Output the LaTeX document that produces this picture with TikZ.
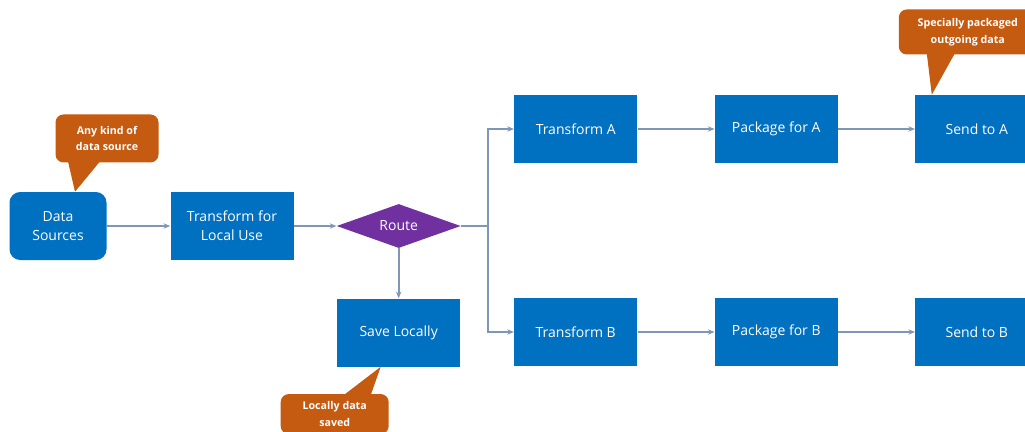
\documentclass[tikz,border=0pt]{standalone}
\usepackage{fontspec}
\setmainfont{Open Sans}
\usepackage{tikz}
\usetikzlibrary{positioning,arrows.meta,shapes.geometric,calc}
\definecolor{colorbox}    {RGB}{  0,112,192}
\definecolor{colorroute}  {RGB}{112, 48,160}
\definecolor{colornote}   {RGB}{197, 90, 17}
\definecolor{colorline}   {RGB}{128,150,185}

\begin{document}
\begin{tikzpicture}[
    base/.style={text=white,font={\fontsize{10.5}{14}\selectfont},inner sep=2pt,align=center},
    stepbox/.style={base,rectangle,fill=colorbox,minimum width=92.25pt,minimum height=51pt},
    source/.style={stepbox,rounded corners=8pt,minimum width=72.75pt},
    decision/.style={base,diamond,aspect=3,fill=colorroute,minimum width=93pt,minimum height=33pt,inner sep=0pt},
    note/.style={base,rectangle,rounded corners=6pt,fill=colornote,font={\fontsize{8}{12.5}\selectfont\bfseries}},
    flow/.style={draw=colorline,line width=0.8pt,-{Stealth[length=5pt,width=4pt]}},
]
    \useasboundingbox (0,0) rectangle (768.75pt,-324pt);

    \node[source] (datasrc) at (43.5pt,-169.5pt) {Data\\Sources};
    \node[stepbox,right=47.6pt of datasrc]  (translocal) {Transform for\\Local Use};
    \node[decision,right=32pt of translocal] (route) {Route};
    \node[stepbox,below=37.5pt of route]    (savelocal) {Save Locally};

    \node[stepbox,right=39.75pt of route.east,yshift=72.75pt]  (transa) {Transform A};
    \node[stepbox,right=57.75pt of transa]  (packa) {Package for A};
    \node[stepbox,right=57.75pt of packa]   (senda) {Send to A};

    \node[stepbox,right=39.75pt of route.east,yshift=-79.5pt]  (transb) {Transform B};
    \node[stepbox,right=57.75pt of transb]  (packb) {Package for B};
    \node[stepbox,right=57.75pt of packb]   (sendb) {Send to B};

    % callouts
    \node[note,minimum width=77.25pt,minimum height=36pt,above=21.75pt of datasrc,xshift=36.75pt] (notesrc) {Any kind of\\data source};
    \node[note,minimum width=81pt,minimum height=30pt,below=20.25pt of savelocal,xshift=-48pt] (notesave) {Locally data\\saved};
    \node[note,minimum width=103.5pt,minimum height=33.75pt,above=30pt of senda,xshift=-6.75pt] (noteout) {Specially packaged\\outgoing data};

    \fill[colornote] ([xshift=-29.25pt,yshift=1pt]notesrc.south) -- ($(datasrc.north)+(12.75pt,0)$) -- ([xshift=-5.25pt,yshift=1pt]notesrc.south) -- cycle;
    \fill[colornote] ([xshift=6.75pt,yshift=-1pt]notesave.north) -- ($(savelocal.south)+(-13.5pt,0)$) -- ([xshift=27pt,yshift=-1pt]notesave.north) -- cycle;
    \fill[colornote] ([xshift=-30.75pt,yshift=1pt]noteout.south) -- ($(senda.north)+(-33.75pt,0)$) -- ([xshift=-9.75pt,yshift=1pt]noteout.south) -- cycle;

    % connectors
    \draw[flow] (datasrc) -- (translocal);
    \draw[flow] (translocal) -- (route);
    \draw[flow,line width=1.5pt] (route) -- (savelocal);
    \draw[draw=colorline,line width=0.8pt] (route.east) -- ++(20.25pt,0) coordinate (split);
    \draw[flow] (split) |- (transa);
    \draw[flow] (split) |- (transb);
    \draw[flow] (transa) -- (packa);
    \draw[flow] (packa) -- (senda);
    \draw[flow] (transb) -- (packb);
    \draw[flow] (packb) -- (sendb);

\end{tikzpicture}
\end{document}
